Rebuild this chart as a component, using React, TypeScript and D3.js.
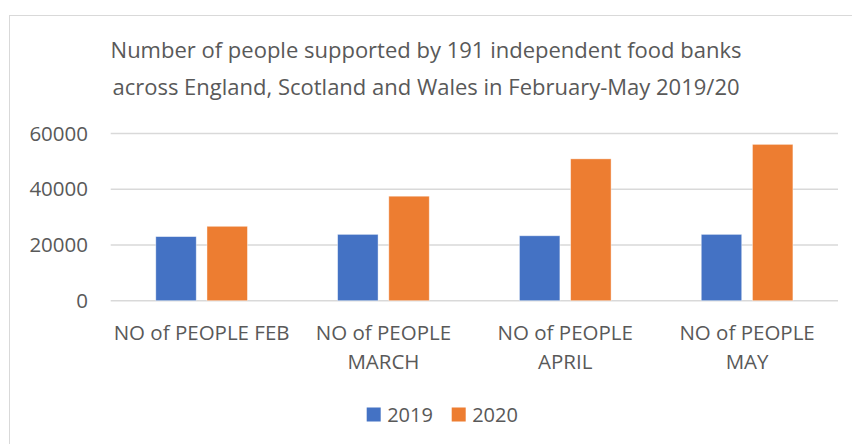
import React, { useEffect, useRef } from "react";
import * as d3 from "d3";

const categories = ["NO of PEOPLE FEB", "NO of PEOPLE MARCH", "NO of PEOPLE APRIL", "NO of PEOPLE MAY"];
const seriesNames = ["2019", "2020"];
const values2019 = [23000, 23800, 23300, 23800];
const values2020 = [26700, 37500, 50900, 56100];
const yTicks = [0, 20000, 40000, 60000];
const titleLines = [
  "Number of people supported by 191 independent food banks",
  "across England, Scotland and Wales in February-May 2019/20",
];
const colors = ["#4472C4", "#ED7D31"];

const W = 852;
const H = 444;
const FONT = "'Open Sans', 'Liberation Sans', sans-serif";
const TEXT = "#595959";

export default function App() {
  const ref = useRef<SVGSVGElement | null>(null);

  useEffect(() => {
    const svg = d3.select(ref.current);
    svg.selectAll("*").remove();

    const left = 110.7, right = 838, top = 133.5, bottom = 300.7;

    // frame
    svg.append("rect")
      .attr("x", 9.5).attr("y", 15.5)
      .attr("width", W + 20).attr("height", H + 20)
      .attr("fill", "white").attr("stroke", "#d9d9d9").attr("stroke-width", 1);

    // title
    svg.append("g").selectAll("text").data(titleLines).join("text")
      .attr("x", 426).attr("y", (_d, i) => 58 + i * 37)
      .attr("text-anchor", "middle")
      .attr("font-family", FONT).attr("font-size", 22)
      .attr("fill", TEXT)
      .text(d => d);

    const y = d3.scaleLinear().domain([0, 60000]).range([bottom, top]);
    const x0 = d3.scaleBand<string>().domain(categories).range([left, right]).paddingInner(0.496).paddingOuter(0.248);
    const x1 = d3.scaleBand<string>().domain(seriesNames).range([0, x0.bandwidth()]).paddingInner(0.21);

    // gridlines
    svg.append("g").selectAll("line").data(yTicks).join("line")
      .attr("x1", left).attr("x2", right)
      .attr("y1", d => y(d)).attr("y2", d => y(d))
      .attr("stroke", "#d9d9d9").attr("stroke-width", 1.4);

    // y tick labels
    svg.append("g").selectAll("text").data(yTicks).join("text")
      .attr("x", 88).attr("y", d => y(d))
      .attr("dy", "0.35em")
      .attr("text-anchor", "end")
      .attr("font-family", FONT).attr("font-size", 20.5)
      .attr("fill", TEXT)
      .text(d => String(d));

    // bars
    const seriesData = [values2019, values2020];
    const groups = svg.append("g").selectAll("g").data(categories).join("g")
      .attr("transform", c => `translate(${x0(c)},0)`);
    groups.selectAll("rect")
      .data((_c, ci) => seriesNames.map((s, si) => ({ s, si, v: seriesData[si][ci] })))
      .join("rect")
      .attr("x", d => x1(d.s)!)
      .attr("y", d => y(d.v))
      .attr("width", x1.bandwidth())
      .attr("height", d => bottom - y(d.v))
      .attr("fill", d => colors[d.si])
      .attr("stroke", "white").attr("stroke-opacity", 0.5).attr("stroke-width", 0.8);

    // x labels with wrapping
    const maxW = x0.step() - 2;
    const xl = svg.append("g");
    categories.forEach(c => {
      const cx = x0(c)! + x0.bandwidth() / 2;
      const t = xl.append("text")
        .attr("text-anchor", "middle")
        .attr("font-family", FONT).attr("font-size", 20.5)
        .attr("fill", TEXT);
      const words = c.split(" ");
      const lines: string[] = [];
      let cur: string[] = [];
      const probe = t.append("tspan");
      words.forEach(w => {
        const test = [...cur, w].join(" ");
        probe.text(test);
        const len = (probe.node() as SVGTSpanElement).getComputedTextLength();
        if (len > maxW && cur.length) {
          lines.push(cur.join(" "));
          cur = [w];
        } else cur.push(w);
      });
      if (cur.length) lines.push(cur.join(" "));
      probe.remove();
      lines.forEach((ln, i) => {
        t.append("tspan").attr("x", cx).attr("y", 340 + i * 28.5).text(ln);
      });
    });

    // legend
    const lg = svg.append("g");
    const legendX = [366.7, 451.7];
    seriesNames.forEach((s, i) => {
      lg.append("rect").attr("x", legendX[i]).attr("y", 407.5)
        .attr("width", 14).attr("height", 14).attr("fill", colors[i]);
      lg.append("text").attr("x", legendX[i] + 20.5).attr("y", 414.5)
        .attr("dy", "0.35em")
        .attr("font-family", FONT).attr("font-size", 20)
        .attr("fill", TEXT).text(s);
    });
  }, []);

  return (
    <svg ref={ref} width={W} height={H}
      style={{ position: "absolute", left: 0, top: 0, display: "block" }} />
  );
}
